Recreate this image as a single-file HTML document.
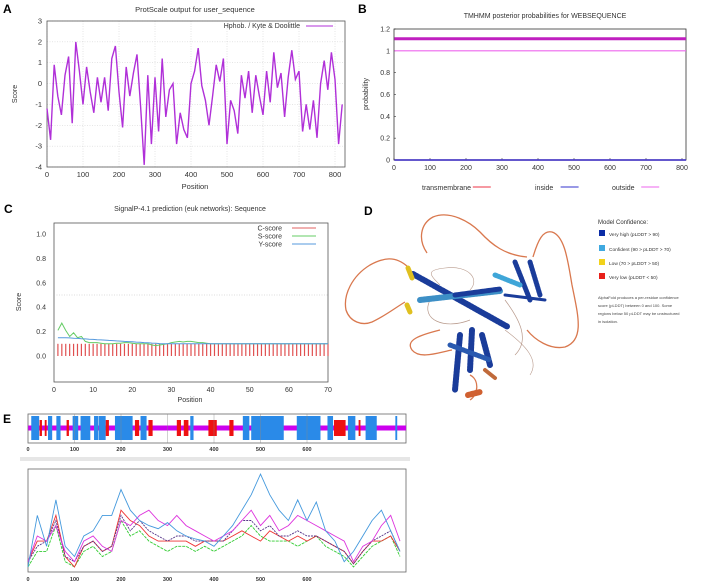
<!DOCTYPE html>
<html><head><meta charset="utf-8"><style>
html,body{margin:0;padding:0;background:#fff;}
svg{display:block;font-family:"Liberation Sans",sans-serif;}
</style></head><body>
<svg id="fig" width="708" height="588" viewBox="0 0 708 588" xmlns="http://www.w3.org/2000/svg">
<text x="3" y="13" font-size="12" font-weight="bold">A</text>
<text x="358" y="13" font-size="12" font-weight="bold">B</text>
<text x="4" y="213" font-size="12" font-weight="bold">C</text>
<text x="364" y="215" font-size="12" font-weight="bold">D</text>
<text x="3" y="423" font-size="12" font-weight="bold">E</text>

<g id="pa">
<text x="195" y="12" font-size="7.5" text-anchor="middle" fill="#333">ProtScale output for user_sequence</text>
<text x="17" y="94" font-size="7" text-anchor="middle" fill="#333" transform="rotate(-90 17 94)">Score</text>
<text x="195" y="189" font-size="7.5" text-anchor="middle" fill="#333">Position</text>
</g>
<g id="pb">
<text x="545" y="18" font-size="7" text-anchor="middle" fill="#333">TMHMM posterior probabilities for WEBSEQUENCE</text>
<text x="368" y="94" font-size="7" text-anchor="middle" fill="#333" transform="rotate(-90 368 94)">probability</text>
</g>
<g id="pc">
<text x="190" y="211" font-size="7" text-anchor="middle" fill="#333">SignalP-4.1 prediction (euk networks): Sequence</text>
<text x="21" y="302" font-size="7" text-anchor="middle" fill="#333" transform="rotate(-90 21 302)">Score</text>
<text x="190" y="402" font-size="7" text-anchor="middle" fill="#333">Position</text>
</g>
<g id="pd">
<g fill="none" stroke="#d9784e" stroke-width="1.3">
<path d="M408,267 C395,255 383,258 370,265 C352,276 343,295 346,310 C350,322 362,326 372,322 C385,316 395,308 405,302"/>
<path d="M427,253 C418,240 420,224 433,217 C450,210 470,222 480,232 C492,245 505,255 527,257"/>
<path d="M533,257 C538,240 543,230 552,232 C565,236 568,262 572,285 C578,315 585,340 565,347 C550,350 535,340 527,330"/>
<path d="M440,330 C420,335 405,340 412,350 C420,360 440,352 452,350"/>
<path d="M470,375 C480,380 478,395 470,400"/>
<path d="M505,300 C520,320 530,340 515,355" stroke="#b89a8c" stroke-width="0.7"/>
<path d="M430,300 C420,320 445,330 470,320" stroke="#b89a8c" stroke-width="0.7"/>
<path d="M440,285 C430,275 425,270 445,268 C470,265 480,280 470,290" stroke="#b89a8c" stroke-width="0.6"/>
<path d="M505,330 C525,345 540,360 530,375" stroke="#b89a8c" stroke-width="0.6"/>
</g>
<g fill="none" stroke-linecap="round">
<line x1="413" y1="274" x2="508" y2="327" stroke="#1a3c9a" stroke-width="6" stroke-dasharray="2 1.3"/>
<line x1="420" y1="300" x2="500" y2="291" stroke="#3d8fc6" stroke-width="6" stroke-dasharray="2 1.3"/>
<line x1="455" y1="295" x2="500" y2="289" stroke="#1a3c9a" stroke-width="5" stroke-dasharray="2 1.3"/>
<line x1="515" y1="262" x2="530" y2="300" stroke="#1a3c9a" stroke-width="5" stroke-dasharray="2 1.3"/>
<line x1="530" y1="262" x2="540" y2="295" stroke="#1a3c9a" stroke-width="5" stroke-dasharray="2 1.3"/>
<line x1="495" y1="275" x2="520" y2="285" stroke="#3fa6d8" stroke-width="5" stroke-dasharray="2 1.3"/>
<line x1="505" y1="295" x2="545" y2="300" stroke="#1a3c9a" stroke-width="3"/>
<line x1="460" y1="335" x2="455" y2="390" stroke="#1a3c9a" stroke-width="6" stroke-dasharray="2 1.3"/>
<line x1="472" y1="330" x2="470" y2="370" stroke="#1a3c9a" stroke-width="6" stroke-dasharray="2 1.3"/>
<line x1="482" y1="335" x2="490" y2="365" stroke="#1a3c9a" stroke-width="6" stroke-dasharray="2 1.3"/>
<line x1="450" y1="345" x2="490" y2="360" stroke="#2a5ab0" stroke-width="5" stroke-dasharray="2 1.3"/>
<line x1="408" y1="268" x2="412" y2="278" stroke="#e0c020" stroke-width="5"/>
<line x1="407" y1="305" x2="410" y2="312" stroke="#e0c020" stroke-width="5"/>
<line x1="468" y1="395" x2="480" y2="392" stroke="#d06030" stroke-width="6" stroke-dasharray="2 1.3"/>
<line x1="485" y1="370" x2="495" y2="378" stroke="#c06a3a" stroke-width="4"/>
</g>
<text x="598" y="224" font-size="6" fill="#333">Model Confidence:</text>
<rect x="599" y="230" width="6" height="6" fill="#0b2ca6"/>
<text x="609" y="236" font-size="4.8" fill="#333">Very high (pLDDT &gt; 90)</text>
<rect x="599" y="245" width="6" height="6" fill="#3fa9e0"/>
<text x="609" y="251" font-size="4.8" fill="#333">Confident (90 &gt; pLDDT &gt; 70)</text>
<rect x="599" y="259" width="6" height="6" fill="#f2d21a"/>
<text x="609" y="265" font-size="4.8" fill="#333">Low (70 &gt; pLDDT &gt; 50)</text>
<rect x="599" y="273" width="6" height="6" fill="#e8201a"/>
<text x="609" y="279" font-size="4.8" fill="#333">Very low (pLDDT &lt; 50)</text>
<g font-size="4" fill="#444">
<text x="598" y="299">AlphaFold produces a per-residue confidence</text>
<text x="598" y="307">score (pLDDT) between 0 and 100. Some</text>
<text x="598" y="315">regions below 50 pLDDT may be unstructured</text>
<text x="598" y="323">in isolation.</text>
</g>
</g>
<g id="pe">
<rect x="20" y="457" width="390" height="4" fill="#e6e6e6"/>
</g>
<script>
var NS="http://www.w3.org/2000/svg";
function mk(tag,attrs,parent){var e=document.createElementNS(NS,tag);for(var k in attrs)e.setAttribute(k,attrs[k]);parent.appendChild(e);return e;}
var aStep=10;
var aScores=[-1.2,-2.7,0.9,-0.6,-1.5,0.4,1.3,-1.9,2.0,0.6,-1.0,0.8,-0.4,-1.4,0.3,-0.9,0.3,-1.3,1.2,1.8,-0.4,-2.1,0.8,-0.6,0.5,1.4,-1.1,-3.9,0.4,-2.9,0.3,-2.3,1.2,-1.6,-0.3,0.0,-2.9,-1.4,-2.2,-2.6,0.0,0.6,1.7,-0.1,-0.8,-2.0,-0.6,0.9,0.1,1.2,-2.9,-0.8,-1.3,-2.4,0.4,-0.7,0.6,-1.4,0.4,-0.6,-1.5,0.6,-0.9,1.5,-0.2,0.5,-1.6,0.3,1.6,0.2,0.6,-2.3,-1.0,-2.2,-0.8,-2.6,0.0,1.1,-0.3,1.5,0.2,-2.9,-1.0];
var aXTicks=[0,100,200,300,400,500,600,700,800];
var aYTicks=[-4,-3,-2,-1,0,1,2,3];
var bXTicks=[0,100,200,300,400,500,600,700,800];
var bYTicks=[0,0.2,0.4,0.6,0.8,1,1.2];
var bPositions=[1,813];
var bOutside=[1,1];
var bInside=[0,0];
var bTransmembrane=[0,0];
var bBar=[1.11,1.11];
var cXTicks=[0,10,20,30,40,50,60,70];
var cYTicks=[0.0,0.2,0.4,0.6,0.8,1.0];
var cC=[0.1,0.1,0.1,0.1,0.1,0.1,0.1,0.1,0.1,0.1,0.1,0.1,0.1,0.1,0.1,0.1,0.1,0.1,0.1,0.1,0.1,0.1,0.1,0.1,0.1,0.1,0.1,0.1,0.1,0.1,0.1,0.1,0.1,0.1,0.1,0.1,0.1,0.1,0.1,0.1,0.1,0.1,0.1,0.1,0.1,0.1,0.1,0.1,0.1,0.1,0.1,0.1,0.1,0.1,0.1,0.1,0.1,0.1,0.1,0.1,0.1,0.1,0.1,0.1,0.1,0.1,0.1,0.1,0.1,0.1];
var cS=[0.21,0.27,0.21,0.16,0.19,0.15,0.16,0.12,0.11,0.11,0.11,0.105,0.1,0.1,0.1,0.105,0.105,0.11,0.11,0.105,0.1,0.1,0.1,0.1,0.09,0.085,0.09,0.095,0.1,0.11,0.115,0.12,0.115,0.12,0.12,0.115,0.11,0.11,0.105,0.1,0.1,0.1,0.1,0.1,0.1,0.1,0.1,0.1,0.1,0.1,0.1,0.1,0.1,0.1,0.1,0.1,0.1,0.1,0.1,0.1,0.1,0.1,0.1,0.1,0.1,0.1,0.1,0.1,0.1,0.1];
var cY=[0.15,0.15,0.15,0.148,0.146,0.144,0.142,0.14,0.138,0.136,0.134,0.132,0.13,0.128,0.126,0.124,0.122,0.12,0.118,0.116,0.114,0.112,0.11,0.108,0.106,0.104,0.102,0.1,0.1,0.1,0.1,0.1,0.1,0.1,0.1,0.1,0.1,0.1,0.1,0.1,0.1,0.1,0.1,0.1,0.1,0.1,0.1,0.1,0.1,0.1,0.1,0.1,0.1,0.1,0.1,0.1,0.1,0.1,0.1,0.1,0.1,0.1,0.1,0.1,0.1,0.1,0.1,0.1,0.1,0.1];
var eXTicks=[0,100,200,300,400,500,600];
var eHelixStart=[7,43,61,96,113,142,152,187,242,349,462,480,578,644,688,726,790];
var eHelixEnd=[24,52,70,108,134,151,167,225,255,356,476,550,629,656,704,750,794];
var eStrandStart=[25,36,83,167,230,259,320,335,388,433,658,711];
var eStrandEnd=[30,40,88,174,239,268,329,345,406,442,683,715];
var eStep=20;
var eBlue=[0.05,0.55,0.25,0.7,0.25,0.15,0.35,0.4,0.55,0.55,0.8,0.6,0.5,0.45,0.42,0.48,0.4,0.35,0.32,0.3,0.25,0.35,0.45,0.6,0.75,0.95,0.75,0.6,0.5,0.7,0.5,0.68,0.4,0.3,0.1,0.2,0.35,0.5,0.6,0.4,0.2];
var eMagenta=[0.1,0.35,0.3,0.45,0.2,0.1,0.3,0.35,0.25,0.2,0.5,0.45,0.55,0.6,0.5,0.45,0.55,0.45,0.4,0.35,0.3,0.35,0.4,0.5,0.6,0.45,0.55,0.4,0.45,0.55,0.5,0.45,0.4,0.35,0.3,0.1,0.25,0.3,0.45,0.55,0.3];
var eRed=[0.1,0.3,0.3,0.55,0.15,0.05,0.25,0.3,0.2,0.25,0.6,0.5,0.45,0.35,0.3,0.3,0.3,0.3,0.25,0.3,0.3,0.3,0.35,0.4,0.35,0.3,0.4,0.35,0.3,0.35,0.3,0.35,0.3,0.25,0.2,0.08,0.2,0.3,0.3,0.35,0.2];
var eGreen=[0.05,0.2,0.2,0.45,0.1,0.05,0.2,0.25,0.15,0.2,0.5,0.35,0.4,0.3,0.25,0.2,0.25,0.25,0.2,0.25,0.2,0.25,0.3,0.35,0.45,0.35,0.3,0.3,0.3,0.25,0.3,0.35,0.25,0.2,0.15,0.05,0.15,0.25,0.3,0.35,0.15];
var ePurple=[0.1,0.25,0.3,0.5,0.15,0.1,0.25,0.3,0.2,0.25,0.55,0.4,0.5,0.4,0.35,0.3,0.35,0.35,0.3,0.3,0.3,0.3,0.4,0.5,0.5,0.4,0.45,0.35,0.35,0.4,0.35,0.35,0.3,0.25,0.2,0.08,0.2,0.3,0.35,0.4,0.2];

function lin(d0,d1,r0,r1){return function(v){return r0+(v-d0)/(d1-d0)*(r1-r0);};}
function fmt(v){return (Math.round(v*10)/10).toString();}

(function(){
var g=document.getElementById('pa');
var L=47,R=345,T=21,B=167;
var x=lin(0,800,47,335), y=lin(-4,3,167,21);
aXTicks.forEach(function(t){
 var gl=mk('line',{x1:x(t),x2:x(t),y1:T,y2:B,stroke:'#ccc','stroke-width':0.5,'stroke-dasharray':'1 1.5'},g);
 
 
 var tx=mk('text',{x:x(t),y:B+10,'font-size':7.5,'text-anchor':'middle',fill:'#333'},g);tx.textContent=t;
 
 
});
aYTicks.forEach(function(t){
 var gl=mk('line',{x1:L,x2:R,y1:y(t),y2:y(t),stroke:'#ccc','stroke-width':0.5,'stroke-dasharray':'1 1.5'},g);
 
 
 var tx=mk('text',{x:L-5,y:y(t)+2.5,'font-size':7.5,'text-anchor':'end',fill:'#333'},g);tx.textContent=t;
 
 
});
var fr=mk('rect',{x:L,y:T,width:R-L,height:B-T,fill:'none',stroke:'#555','stroke-width':0.8},g);


var d=aScores.map(function(v,i){return (i?'L':'M')+x(i*aStep).toFixed(1)+','+y(v).toFixed(1);}).join('');
var p=mk('path',{d:d,fill:'none',stroke:'#b030d8','stroke-width':1.4},g);


var lt=mk('text',{x:300,y:28,'font-size':7,'text-anchor':'end',fill:'#333'},g);lt.textContent='Hphob. / Kyte & Doolittle';


var ll=mk('line',{x1:306,x2:333,y1:26,y2:26,stroke:'#b030d8','stroke-width':1},g);


})();

(function(){
var g=document.getElementById('pb');
var L=394,R=686,T=29,B=160;
var x=lin(0,800,394,682), y=lin(0,1.2,160,29);
var fr=mk('rect',{x:L,y:T,width:R-L,height:B-T,fill:'none',stroke:'#333','stroke-width':0.8},g);


bXTicks.forEach(function(t){
 var tx=mk('text',{x:x(t),y:B+10,'font-size':7,'text-anchor':'middle',fill:'#333'},g);tx.textContent=t;
 
 
 mk('line',{x1:x(t),x2:x(t),y1:B,y2:B-2,stroke:'#333','stroke-width':0.6},g);
});
bYTicks.forEach(function(t){
 var tx=mk('text',{x:L-4,y:y(t)+2.5,'font-size':7,'text-anchor':'end',fill:'#333'},g);tx.textContent=fmt(t);
 
 
 mk('line',{x1:L,x2:L+2,y1:y(t),y2:y(t),stroke:'#333','stroke-width':0.6},g);
});
function ln(arr,col,w,name){
 var d=arr.map(function(v,i){return (i?'L':'M')+Math.min(x(bPositions[i]),R).toFixed(1)+','+y(v).toFixed(1);}).join('');
 var p=mk('path',{d:d,fill:'none',stroke:col,'stroke-width':w},g);
 
 
}
ln(bBar,'#c020c0',3,'outside-bar-line');
ln(bOutside,'#ee66ee',1.2,'outside-line');
ln(bTransmembrane,'#ee3344',1.2,'transmembrane-line');
ln(bInside,'#3333cc',1.6,'inside-line');
var leg=[['transmembrane',422,'#ee3344'],['inside',535,'#3333cc'],['outside',612,'#ee66ee']];
leg.forEach(function(l){
 var tx=mk('text',{x:l[1],y:190,'font-size':7,fill:'#333'},g);tx.textContent=l[0];
 
 
 var w=l[0].length*3.6;
 var sw=mk('line',{x1:l[1]+w+4,x2:l[1]+w+22,y1:187,y2:187,stroke:l[2],'stroke-width':1},g);
 
 
});
})();

(function(){
var g=document.getElementById('pc');
var L=54,R=328,T=223,B=382;
var x=lin(0,70,54,328), y=lin(0,1,356,234);
var fr=mk('rect',{x:L,y:T,width:R-L,height:B-T,fill:'none',stroke:'#555','stroke-width':0.8},g);


cXTicks.forEach(function(t){
 var tx=mk('text',{x:x(t),y:B+10,'font-size':7,'text-anchor':'middle',fill:'#333'},g);tx.textContent=t;
 
 
});
cYTicks.forEach(function(t){
 var tx=mk('text',{x:L-8,y:y(t)+2.5,'font-size':7,'text-anchor':'end',fill:'#333'},g);tx.textContent=t.toFixed(1);
 
 
});
var th=mk('line',{x1:L,x2:R,y1:y(0.5),y2:y(0.5),stroke:'#bbb','stroke-width':0.6,'stroke-dasharray':'1 1.5'},g);


cC.forEach(function(v,i){
 var b=mk('line',{x1:x(i+1),x2:x(i+1),y1:y(0),y2:y(v),stroke:'#e05050','stroke-width':1.2},g);
 
 
});
function ln(arr,col,name){
 var d=arr.map(function(v,i){return (i?'L':'M')+x(i+1).toFixed(1)+','+y(v).toFixed(1);}).join('');
 var p=mk('path',{d:d,fill:'none',stroke:col,'stroke-width':1},g);
 
 
}
ln(cS,'#66cc66','s-score-line');
ln(cY,'#5599dd','y-score-line');
var leg=[['C-score','#e06060',228],['S-score','#66cc66',236],['Y-score','#5599dd',244]];
leg.forEach(function(l){
 var tx=mk('text',{x:282,y:l[2]+2.5,'font-size':7,'text-anchor':'end',fill:'#333'},g);tx.textContent=l[0];
 
 
 var sw=mk('line',{x1:292,x2:316,y1:l[2],y2:l[2],stroke:l[1],'stroke-width':1},g);
 
 
});
})();

(function(){
var g=document.getElementById('pe');
var x=lin(0,600,28,307);
var T1=414,B1=443;
var fr=mk('rect',{x:28,y:T1,width:378,height:B1-T1,fill:'none',stroke:'#666','stroke-width':0.8},g);


var mg=mk('rect',{x:x(0),y:425.5,width:x(813)-x(0),height:5,fill:'#cc00ee'},g);


eStrandStart.forEach(function(s,i){
 var r=mk('rect',{x:x(s),y:420,width:x(eStrandEnd[i])-x(s),height:16,fill:'#ee1111'},g);
 
 
});
eHelixStart.forEach(function(s,i){
 var r=mk('rect',{x:x(s),y:416,width:Math.max(1,x(eHelixEnd[i])-x(s)),height:24,fill:'#2a8ae8'},g);
 
 
});
eXTicks.forEach(function(t){
 var tx=mk('text',{x:x(t),y:451,'font-size':5.5,'font-weight':'bold','text-anchor':'middle',fill:'#333'},g);tx.textContent=t;
 
 
 mk('line',{x1:x(t),x2:x(t),y1:T1,y2:B1,stroke:'#888','stroke-width':0.4},g);
});
var T2=469,B2=572;
var y=lin(0,1,572,469);
var fr2=mk('rect',{x:28,y:T2,width:378,height:B2-T2,fill:'none',stroke:'#666','stroke-width':0.8},g);


eXTicks.forEach(function(t){
 var tx=mk('text',{x:x(t),y:581,'font-size':5.5,'font-weight':'bold','text-anchor':'middle',fill:'#333'},g);tx.textContent=t;
 
 
});
function ln(arr,col,name,dash){
 var d=arr.map(function(v,i){return (i?'L':'M')+x(Math.min(i*eStep,813)).toFixed(1)+','+y(v).toFixed(1);}).join('');
 var p=mk('path',{d:d,fill:'none',stroke:col,'stroke-width':0.9},g);
 if(dash)p.setAttribute('stroke-dasharray',dash);
 
 
}
ln(eGreen,'#33cc33','profile-green-line','3 1');
ln(eRed,'#ee3333','profile-red-line');
ln(ePurple,'#553388','profile-purple-line','2 1');
ln(eMagenta,'#dd33dd','profile-magenta-line');
ln(eBlue,'#4499dd','profile-blue-line');
})();
</script>
</svg>
</body></html>
